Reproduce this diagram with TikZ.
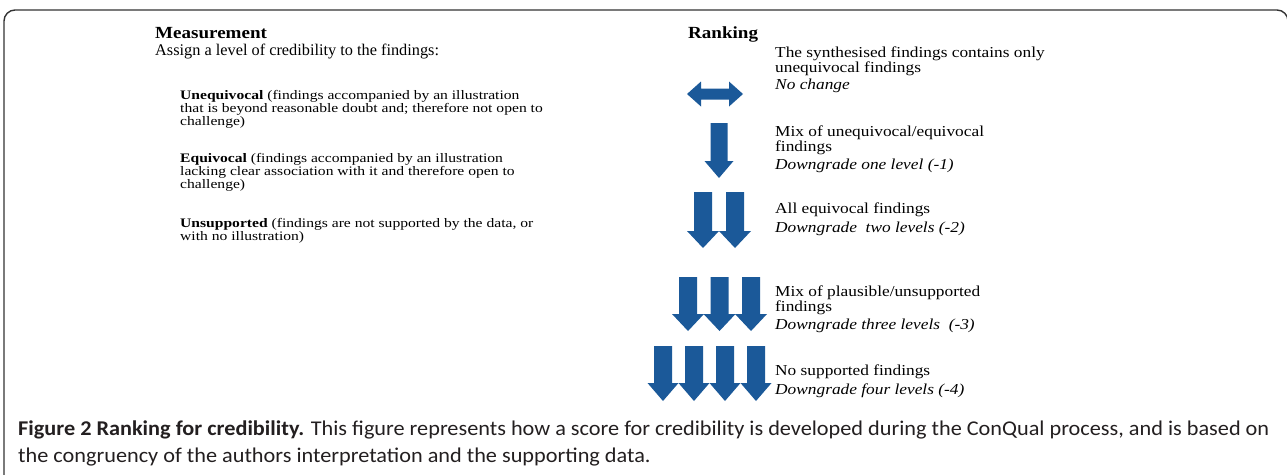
\documentclass[tikz,border=0pt]{standalone}
\usepackage{fontspec}
\setmainfont{Liberation Serif}
\newfontfamily\headfont[FakeStretch=1.12]{Liberation Serif}
\newfontfamily\itemfont[FakeStretch=1.2]{Liberation Serif}
\newfontfamily\rfont[FakeStretch=1.14]{Liberation Serif}
\newfontfamily\capfont[FakeStretch=1.06]{Carlito}
\definecolor{arrowblue}{RGB}{27,89,153}
\definecolor{capgray}{RGB}{35,31,32}
\newcommand\blockdown[6]{% cx, top, bottom, shaft half width, head half width, head length
  \fill[arrowblue] (#1-#4,#2) -- (#1+#4,#2) -- (#1+#4,#3-#6) -- (#1+#5,#3-#6) -- (#1,#3)
    -- (#1-#5,#3-#6) -- (#1-#4,#3-#6) -- cycle;}
\tikzset{
  txt/.style={anchor=base west, inner sep=0pt, align=left},
  headtxt/.style={txt, font=\headfont\fontsize{17}{18}\selectfont\bfseries},
  bodytxt/.style={txt, font=\fontsize{16.3}{15}\selectfont},
  itemtxt/.style={txt, font=\itemfont\fontsize{13}{10.8}\selectfont},
  rtxt/.style={txt, font=\rfont\fontsize{15.2}{12.8}\selectfont},
  captxt/.style={txt, font=\capfont\fontsize{21}{27}\selectfont, text=capgray},
}
\begin{document}
\begin{tikzpicture}[x=1pt,y=-1pt]
\useasboundingbox (0,0) rectangle (1287,474);
\begin{scope}
\clip (0,0) rectangle (1287,474);
\draw[line width=1.4pt, black!80, rounded corners=11pt] (4,490) -- (4,10) -- (1288,10) -- (1288,490);
\end{scope}
% left column (nodes anchored at the baseline of their last line)
\node[headtxt] (meas) at (155,38) {Measurement};
\node[bodytxt] (assign) at (155,55) {Assign a level of credibility to the findings:};
\node[itemtxt] (uneq) at (180,125) {\textbf{Unequivocal} (findings accompanied by an illustration\\that is beyond reasonable doubt and; therefore not open to\\challenge)};
\node[itemtxt] (equiv) at (180,188) {\textbf{Equivocal} (findings\ accompanied by an illustration\\lacking clear association with it and therefore open to\\challenge)};
\node[itemtxt] (unsup) at (180,240) {\textbf{Unsupported} (findings are not supported by the data, or\\with no illustration)};
% right column
\node[headtxt] (rank) at (688,38) {Ranking};
\node[rtxt] (r1) at (775,89) {The synthesised findings contains only\\unequivocal findings\\[1.5pt]\textit{No change}};
\node[rtxt] (r2) at (775,169) {Mix of unequivocal/equivocal\\findings\\[3pt]\textit{Downgrade one level (-1)}};
\node[rtxt] (r3) at (775,232) {All equivocal findings\\[4pt]\textit{Downgrade\ \ two levels (-2)}};
\node[rtxt] (r4) at (775,329) {Mix of plausible/unsupported\\findings\\[3pt]\textit{Downgrade three levels\ \ (-3)}};
\node[rtxt] (r5) at (775,394) {No supported findings\\[4pt]\textit{Downgrade four levels (-4)}};
% arrows
\fill[arrowblue] (687,94) -- (701,81.5) -- (701,88.5) -- (729,88.5) -- (729,81.5) -- (743,94)
  -- (729,106.5) -- (729,99.5) -- (701,99.5) -- (701,106.5) -- cycle;
\blockdown{719}{123}{178}{8.5}{14.5}{17}
\foreach \cx in {703,735}{\blockdown{\cx}{192}{248}{9}{16}{17}}
\foreach \cx in {688,719.5,751}{\blockdown{\cx}{277}{331}{9}{16}{17}}
\foreach \cx in {663,694,725,756}{\blockdown{\cx}{346}{401}{9}{15.5}{18}}
% caption
\node[captxt] (cap) at (18,462) {\textbf{Figure 2 Ranking for credibility.} This figure represents how a score for credibility is developed during the ConQual process, and is based on\\the congruency of the authors interpretation and the supporting data.};
\end{tikzpicture}
\end{document}
